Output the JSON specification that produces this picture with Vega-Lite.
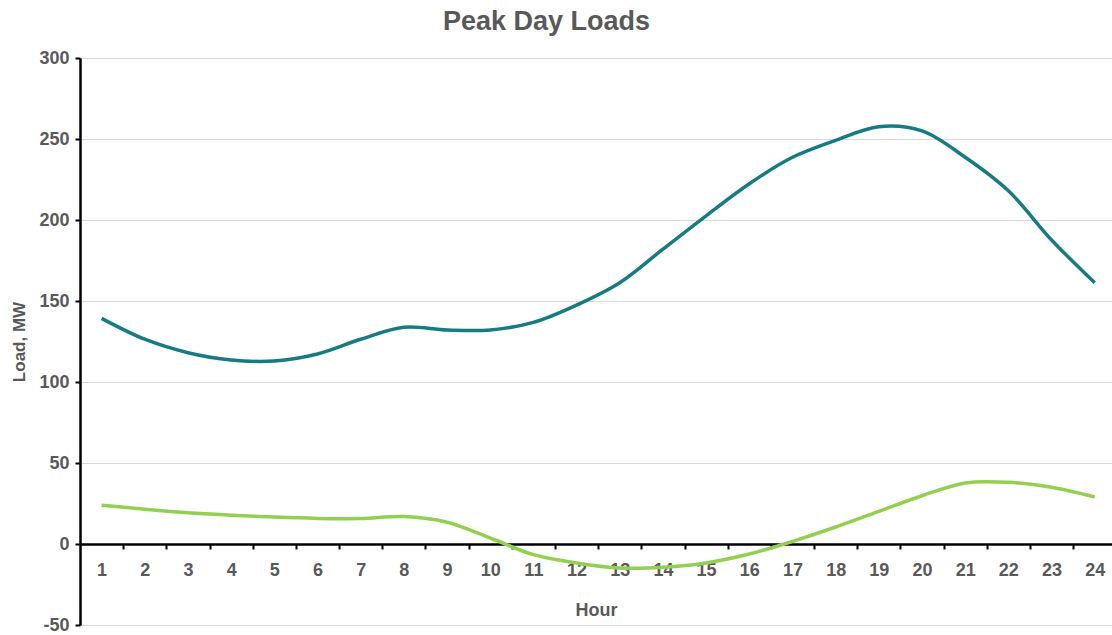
{
  "$schema": "https://vega.github.io/schema/vega-lite/v6.json",
  "width": 1032,
  "height": 567,
  "padding": {"left": 80, "top": 58, "right": 0, "bottom": 10},
  "autosize": {"type": "none"},
  "background": "white",
  "title": {
    "text": "Peak Day Loads",
    "font": "Liberation Sans",
    "fontWeight": "bold",
    "fontSize": 27,
    "color": "#595959",
    "anchor": "start",
    "frame": "group",
    "dx": 363,
    "dy": -9
  },
  "config": {
    "view": {"stroke": null},
    "axis": {
      "labelFont": "Liberation Sans",
      "titleFont": "Liberation Sans",
      "labelFontWeight": "bold",
      "titleFontWeight": "bold",
      "labelColor": "#595959",
      "titleColor": "#595959",
      "labelFontSize": 18,
      "titleFontSize": 18
    }
  },
  "data": {
    "values": [
      {"hour": 1, "series": "A", "load": 139.3},
      {"hour": 2, "series": "A", "load": 126.4},
      {"hour": 3, "series": "A", "load": 118.1},
      {"hour": 4, "series": "A", "load": 113.6},
      {"hour": 5, "series": "A", "load": 113.0},
      {"hour": 6, "series": "A", "load": 117.3},
      {"hour": 7, "series": "A", "load": 126.4},
      {"hour": 8, "series": "A", "load": 133.8},
      {"hour": 9, "series": "A", "load": 132.1},
      {"hour": 10, "series": "A", "load": 132.1},
      {"hour": 11, "series": "A", "load": 136.8},
      {"hour": 12, "series": "A", "load": 147.5},
      {"hour": 13, "series": "A", "load": 161.3},
      {"hour": 14, "series": "A", "load": 182.0},
      {"hour": 15, "series": "A", "load": 202.6},
      {"hour": 16, "series": "A", "load": 222.4},
      {"hour": 17, "series": "A", "load": 238.7},
      {"hour": 18, "series": "A", "load": 249.2},
      {"hour": 19, "series": "A", "load": 257.6},
      {"hour": 20, "series": "A", "load": 255.0},
      {"hour": 21, "series": "A", "load": 238.7},
      {"hour": 22, "series": "A", "load": 218.0},
      {"hour": 23, "series": "A", "load": 187.7},
      {"hour": 24, "series": "A", "load": 161.3},
      {"hour": 1, "series": "B", "load": 23.9},
      {"hour": 2, "series": "B", "load": 21.5},
      {"hour": 3, "series": "B", "load": 19.3},
      {"hour": 4, "series": "B", "load": 17.8},
      {"hour": 5, "series": "B", "load": 16.6},
      {"hour": 6, "series": "B", "load": 15.8},
      {"hour": 7, "series": "B", "load": 15.7},
      {"hour": 8, "series": "B", "load": 16.9},
      {"hour": 9, "series": "B", "load": 13.4},
      {"hour": 10, "series": "B", "load": 3.7},
      {"hour": 11, "series": "B", "load": -6.6},
      {"hour": 12, "series": "B", "load": -11.7},
      {"hour": 13, "series": "B", "load": -14.8},
      {"hour": 14, "series": "B", "load": -14.4},
      {"hour": 15, "series": "B", "load": -11.7},
      {"hour": 16, "series": "B", "load": -6.2},
      {"hour": 17, "series": "B", "load": 1.6},
      {"hour": 18, "series": "B", "load": 10.5},
      {"hour": 19, "series": "B", "load": 20.2},
      {"hour": 20, "series": "B", "load": 29.8},
      {"hour": 21, "series": "B", "load": 37.7},
      {"hour": 22, "series": "B", "load": 38.1},
      {"hour": 23, "series": "B", "load": 35.0},
      {"hour": 24, "series": "B", "load": 29.0}
    ]
  },
  "mark": {"type": "line", "interpolate": "catmull-rom", "strokeWidth": 3.5, "clip": true},
  "encoding": {
    "x": {
      "field": "hour",
      "type": "quantitative",
      "scale": {"domain": [0.5, 24.4], "nice": false, "zero": false},
      "axis": {
        "title": "Hour",
        "titlePadding": 22,
        "titleAnchor": "middle",
        "offset": -81,
        "values": [1, 1.5, 2, 2.5, 3, 3.5, 4, 4.5, 5, 5.5, 6, 6.5, 7, 7.5, 8, 8.5, 9, 9.5, 10, 10.5, 11, 11.5, 12, 12.5, 13, 13.5, 14, 14.5, 15, 15.5, 16, 16.5, 17, 17.5, 18, 18.5, 19, 19.5, 20, 20.5, 21, 21.5, 22, 22.5, 23, 23.5, 24],
        "labelExpr": "datum.value % 1 === 0 ? format(datum.value, 'd') : ''",
        "tickOpacity": {"condition": {"test": "datum.value % 1 === 0", "value": 0}, "value": 1},
        "tickColor": "black",
        "tickWidth": 2,
        "tickSize": 5,
        "labelPadding": 12,
        "domainColor": "black",
        "domainWidth": 2.5,
        "grid": false,
        "labelFlush": false
      }
    },
    "y": {
      "field": "load",
      "type": "quantitative",
      "scale": {"domain": [-50, 300], "nice": false},
      "axis": {
        "title": "Load, MW",
        "titleFontSize": 17,
        "titlePadding": 10,
        "values": [-50, 0, 50, 100, 150, 200, 250, 300],
        "labelExpr": "replace(format(datum.value, 'd'), '−', '-')",
        "domainColor": "black",
        "domainWidth": 2.5,
        "tickColor": "black",
        "tickWidth": 2,
        "tickSize": 5,
        "labelPadding": 6,
        "gridColor": "#d9d9d9",
        "gridWidth": 1
      }
    },
    "color": {
      "field": "series",
      "type": "nominal",
      "scale": {"domain": ["A", "B"], "range": ["#177b83", "#92d050"]},
      "legend": null
    }
  }
}
